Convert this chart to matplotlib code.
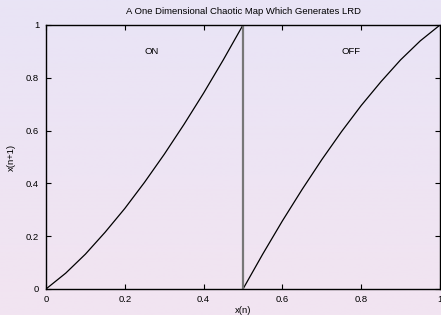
import numpy as np
import matplotlib
matplotlib.use('Agg')
import matplotlib.pyplot as plt
from matplotlib.ticker import FuncFormatter

plt.rcParams['font.family'] = ['Liberation Sans', 'DejaVu Sans']

# values
on_x = [0.0, 0.05, 0.1, 0.15, 0.2, 0.25, 0.3, 0.35, 0.4, 0.45, 0.5]
on_y = [0.0, 0.060, 0.132, 0.215, 0.305, 0.404, 0.510, 0.623, 0.742, 0.868, 1.0]
off_x = [0.5, 0.55, 0.6, 0.65, 0.7, 0.75, 0.8, 0.85, 0.9, 0.95, 1.0]
off_y = [0.0, 0.132, 0.258, 0.377, 0.490, 0.596, 0.695, 0.785, 0.868, 0.940, 1.0]
split_x = [0.5, 0.5]
split_y = [0.0, 1.0]
ticks = [0, 0.2, 0.4, 0.6, 0.8, 1]

fig = plt.figure(figsize=(4.41, 3.15), dpi=100)

# background gradient lavender -> pink
bg = fig.add_axes([0, 0, 1, 1], zorder=-10)
top = np.array([233, 228, 246]) / 255.0
bot = np.array([242, 228, 241]) / 255.0
t = np.linspace(0, 1, 256)[:, None]
grad = (top * (1 - t) + bot * t)[:, None, :]
bg.imshow(grad, aspect='auto', extent=[0, 1, 0, 1])
bg.axis('off')

ax = fig.add_axes([46 / 441, 26 / 315, 394 / 441, 264 / 315])
ax.patch.set_alpha(0)

ax.plot(on_x, on_y, color='black', linewidth=0.9)
ax.plot(off_x, off_y, color='black', linewidth=0.9)
ax.plot(split_x, split_y, color='#777777', linewidth=1.6)

ax.text(0.25, 0.9, 'ON', fontsize=6.8, va='center', ha='left')
ax.text(0.75, 0.9, 'OFF', fontsize=6.8, va='center', ha='left')

ax.set_xlim(0, 1)
ax.set_ylim(0, 1)
ax.set_xticks(ticks)
ax.set_yticks(ticks)
fmt = FuncFormatter(lambda v, p: ('%g' % v))
ax.xaxis.set_major_formatter(fmt)
ax.yaxis.set_major_formatter(fmt)
ax.tick_params(direction='in', length=3.5, width=0.8, labelsize=6.8,
               top=True, right=True, colors='black')
ax.tick_params(axis='x', pad=4)
ax.tick_params(axis='y', pad=5)
for s in ax.spines.values():
    s.set_linewidth(1.0)

ax.set_title('A One Dimensional Chaotic Map Which Generates LRD', fontsize=6.8, pad=8)
ax.set_xlabel('x(n)', fontsize=6.8, labelpad=2)
ax.set_ylabel('x(n+1)', fontsize=6.8, labelpad=7)

plt.savefig('out.png', dpi=100)
